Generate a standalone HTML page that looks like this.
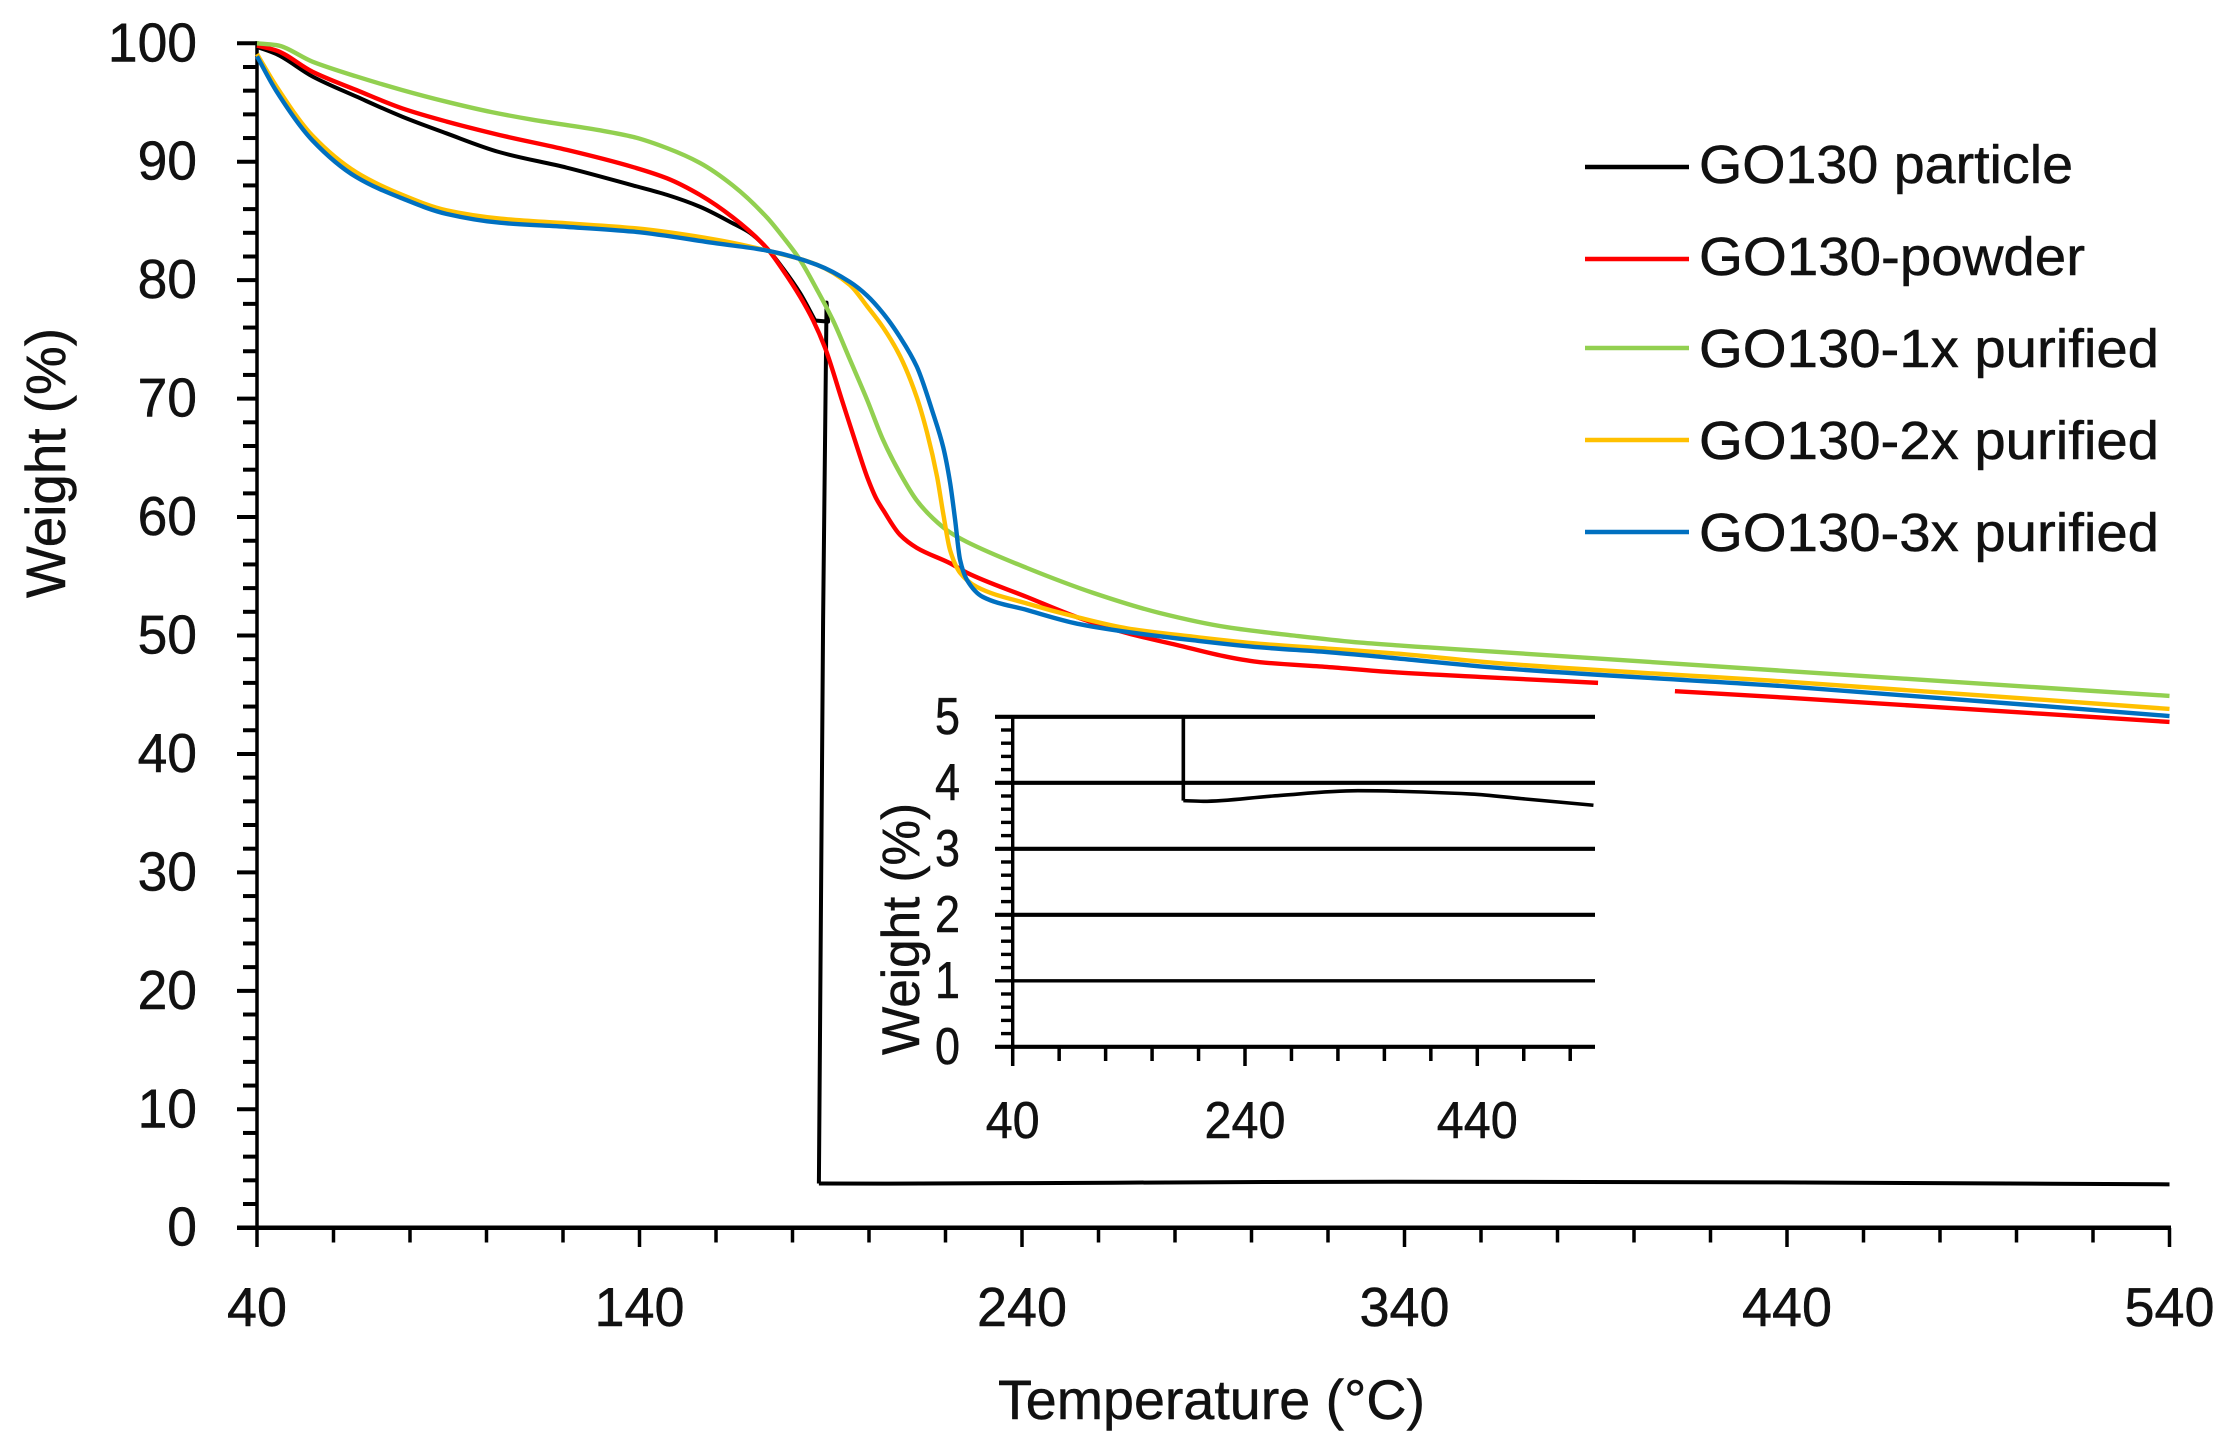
<!DOCTYPE html>
<html lang="en">
<head>
<meta charset="utf-8">
<title>GO130 TGA chart</title>
<style>
html,body{margin:0;padding:0;background:#fff;}
svg{display:block;}
text{font-family:"Liberation Sans",sans-serif;fill:#111;stroke:#111;stroke-width:0.5px;}
</style>
</head>
<body>
<svg id="chart" xmlns="http://www.w3.org/2000/svg" width="2234" height="1443" viewBox="0 0 2234 1443">
  <rect x="0" y="0" width="2234" height="1443" fill="#fff"/>
  <defs>
    <clipPath id="inset-clip"><rect x="1012" y="715" width="586" height="332"/></clipPath>
  </defs>
  <g id="main-grid"></g>
  <g id="main-lines"></g>
  <g id="inset-axes"></g>
  <g id="inset-lines" clip-path="url(#inset-clip)"></g>

  <text x="998" y="1419" font-size="56" textLength="427" lengthAdjust="spacingAndGlyphs">Temperature (°C)</text>
  <text transform="translate(65,598) rotate(-90)" x="0" y="0" font-size="56" textLength="270" lengthAdjust="spacingAndGlyphs">Weight (%)</text>
  <text transform="translate(919,1055) rotate(-90)" x="0" y="0" font-size="53" textLength="252" lengthAdjust="spacingAndGlyphs">Weight (%)</text>

  <g>
    <line x1="1585" x2="1689" y1="167" y2="167" stroke="#000" stroke-width="4.5"/>
    <text x="1699" y="183" font-size="54" textLength="374" lengthAdjust="spacingAndGlyphs">GO130 particle</text>
    <line x1="1585" x2="1689" y1="259" y2="259" stroke="#FF0000" stroke-width="4.5"/>
    <text x="1699" y="275" font-size="54" textLength="386" lengthAdjust="spacingAndGlyphs">GO130-powder</text>
    <line x1="1585" x2="1689" y1="348" y2="348" stroke="#92D050" stroke-width="4.5"/>
    <text x="1699" y="367" font-size="54" textLength="460" lengthAdjust="spacingAndGlyphs">GO130-1x purified</text>
    <line x1="1585" x2="1689" y1="440" y2="440" stroke="#FFC000" stroke-width="4.5"/>
    <text x="1699" y="459" font-size="54" textLength="460" lengthAdjust="spacingAndGlyphs">GO130-2x purified</text>
    <line x1="1585" x2="1689" y1="532" y2="532" stroke="#0070C0" stroke-width="4.5"/>
    <text x="1699" y="551" font-size="54" textLength="460" lengthAdjust="spacingAndGlyphs">GO130-3x purified</text>
  </g>
</svg>
<script>
// Main axis ticks
var xMajorTicks = [40, 140, 240, 340, 440, 540];
var yMajorTicks = [0, 10, 20, 30, 40, 50, 60, 70, 80, 90, 100];
var xMinorStep = 20;
var yMinorStep = 2;

// Inset axis ticks
var insetXMajorTicks = [40, 240, 440];
var insetYMajorTicks = [0, 1, 2, 3, 4, 5];
var insetXMinorStep = 40;
var insetYMinorStep = 0.2;

// GO130 particle: decline, collapse hook, residual tail
var blackT = [40,45,54.5,66,78,89.5,103.5,121,138.3,147.2,155.8,164.4,168.9,173.3,177.5,182,185.9];
var blackW = [99.7,99.1,97.2,95.5,93.8,92.4,90.8,89.5,88,87.2,86.2,84.8,84,82.7,81,78.9,76.6];
var blackDropT = [185.9,189.3,188.9,188,186.9];
var blackDropW = [76.6,76.5,78.1,51.3,3.73];
var blackTailT = [186.9,204,264,337,435,478,540];
var blackTailW = [3.73,3.72,3.8,3.88,3.83,3.76,3.66];

// GO130-powder (null marks the break hidden behind the inset)
var redT = [40,45,54.5,66,78,89.5,103.5,121,138.3,147.2,155.8,164.4,173.3,177.5,182,185.4,188.5,192.9,197.1,199.5,202,203.7,208.1,212.5,221.2,225.6,241.3,254.4,267.5,280.5,293.6,302.2,319.7,337,359.7,390.6,null,410.7,440,540];
var redW = [99.8,99.4,97.6,96.05,94.5,93.4,92.25,91,89.55,88.6,87.2,85.3,82.7,80.85,78.6,76.6,74.3,69.9,65.7,63.4,61.5,60.6,58.5,57.4,56.1,55.3,53.25,51.55,50.2,49.2,48.2,47.75,47.35,46.9,46.5,46,null,45.3,44.75,42.7];

// GO130-1x purified
var greenT = [40,45,54.5,66,78,89.5,101.2,112,129.7,138.3,147.2,155.8,164.4,173.3,177.5,182,186.4,190.6,195,199.5,203.7,208.1,212.5,216.7,221.2,225.6,241.3,258.6,276,293.6,310.9,328.4,345.9,365,440,540];
var greenW = [100,99.85,98.45,97.2,96.05,95.07,94.2,93.55,92.65,92.1,91.15,89.9,88,85.3,83.65,81.7,79.2,76.6,73.3,69.9,66.5,63.7,61.4,59.9,58.7,57.9,55.7,53.6,51.9,50.7,50,49.4,49,48.6,47,44.9];

// GO130-2x purified
var orangeT = [40,45,54.5,66,78,89.5,103.5,121,138.3,160.3,173.3,186.4,195,199.5,203.7,208.1,212.5,215.2,217.8,219.4,221.2,223.8,228.2,241.3,254.4,267.5,284.7,302.2,319.7,337,365,440,540];
var orangeW = [99.1,96.4,92.2,89.1,87.2,85.9,85.2,84.8,84.4,83.4,82.5,81.3,79.6,77.8,76,73.6,70.1,67.1,63.4,60.3,57.2,55.3,54.1,52.7,51.55,50.6,49.9,49.3,48.9,48.5,47.65,46.1,43.8];

// GO130-3x purified
var blueT = [40,45,54.5,66,78,89.5,103.5,121,138.3,160.3,173.3,186.4,195,199.5,203.7,208.1,212.5,216.7,219.4,221.2,222.5,223.8,225.6,229.8,241.3,254.4,267.5,284.7,302.2,319.7,337,365,440,540];
var blueW = [98.9,96,91.8,88.7,86.9,85.6,84.85,84.5,84.1,83.1,82.5,81.3,79.85,78.7,77.2,75.2,72.7,68.8,65.9,62.9,59.8,56.4,54.7,53.25,52.15,51,50.3,49.6,49,48.6,48.1,47.25,45.7,43.2];

var SVGNS = 'http://www.w3.org/2000/svg';
function xMain(t){ return 257 + (t - 40) * 3.825; }
function yMain(w){ return 1227.7 - w * 11.844; }
function xInset(t){ return 1012.7 + (t - 40) * 1.1615; }
function yInset(w){ return 1046.8 - w * 66; }

function makeLine(parent, x1, y1, x2, y2, width){
  var el = document.createElementNS(SVGNS, 'line');
  el.setAttribute('x1', x1);
  el.setAttribute('y1', y1);
  el.setAttribute('x2', x2);
  el.setAttribute('y2', y2);
  el.setAttribute('stroke', '#000');
  el.setAttribute('stroke-width', width);
  parent.appendChild(el);
  return el;
}
function makeLabel(parent, x, y, anchor, size, length, content){
  var el = document.createElementNS(SVGNS, 'text');
  el.setAttribute('x', x);
  el.setAttribute('y', y);
  el.setAttribute('text-anchor', anchor);
  el.setAttribute('font-size', size);
  el.setAttribute('textLength', length);
  el.setAttribute('lengthAdjust', 'spacingAndGlyphs');
  el.textContent = content;
  parent.appendChild(el);
  return el;
}
// Monotone cubic through the points (Fritsch-Butland tangents), split at nulls
function splinePath(xs, ys, sx, sy){
  var runs = [], run = [];
  for (var i = 0; i < xs.length; i++){
    if (xs[i] === null){ runs.push(run); run = []; }
    else { run.push([sx(xs[i]), sy(ys[i])]); }
  }
  runs.push(run);
  var d = '';
  runs.forEach(function(p){
    var n = p.length, h = [], s = [], m = [], k;
    for (k = 0; k < n - 1; k++){
      h[k] = p[k + 1][0] - p[k][0];
      s[k] = (p[k + 1][1] - p[k][1]) / h[k];
    }
    m[0] = s[0];
    m[n - 1] = s[n - 2];
    for (k = 1; k < n - 1; k++){
      if (s[k - 1] * s[k] <= 0) { m[k] = 0; }
      else { m[k] = 3 * (h[k - 1] + h[k]) / ((2 * h[k] + h[k - 1]) / s[k - 1] + (h[k] + 2 * h[k - 1]) / s[k]); }
    }
    d += 'M' + p[0][0].toFixed(2) + ' ' + p[0][1].toFixed(2);
    for (k = 0; k < n - 1; k++){
      d += 'C' + (p[k][0] + h[k] / 3).toFixed(2) + ' ' + (p[k][1] + m[k] * h[k] / 3).toFixed(2) + ' ' +
           (p[k + 1][0] - h[k] / 3).toFixed(2) + ' ' + (p[k + 1][1] - m[k + 1] * h[k] / 3).toFixed(2) + ' ' +
           p[k + 1][0].toFixed(2) + ' ' + p[k + 1][1].toFixed(2);
    }
  });
  return d;
}
function polyPath(xs, ys, sx, sy){
  var d = '';
  for (var i = 0; i < xs.length; i++){
    d += (i ? 'L' : 'M') + sx(xs[i]).toFixed(2) + ' ' + sy(ys[i]).toFixed(2);
  }
  return d;
}
function makePath(parent, d, color, width){
  var el = document.createElementNS(SVGNS, 'path');
  el.setAttribute('d', d);
  el.setAttribute('fill', 'none');
  el.setAttribute('stroke', color);
  el.setAttribute('stroke-width', width);
  el.setAttribute('stroke-linejoin', 'round');
  parent.appendChild(el);
  return el;
}

/* ---------- main axes ---------- */
var mainAxes = document.getElementById('main-grid');
var el, v, n;
for (n = 1; n < 50; n++){
  v = n * yMinorStep;
  if (yMajorTicks.indexOf(v) >= 0) { continue; }
  el = makeLine(mainAxes, 243, yMain(v), 257, yMain(v), 4);
  
  
}
yMajorTicks.forEach(function(v){
  var tick = makeLine(mainAxes, 237, yMain(v), 257, yMain(v), 4);
  
  
  var label = makeLabel(mainAxes, 197, yMain(v) + 18, 'end', 55, String(v).length * 29.7, String(v));
  
  
});
for (v = 40 + xMinorStep; v < 540; v += xMinorStep){
  if (xMajorTicks.indexOf(v) >= 0) { continue; }
  el = makeLine(mainAxes, xMain(v), 1228, xMain(v), 1242.5, 3.5);
  
  
}
xMajorTicks.forEach(function(v){
  var tick = makeLine(mainAxes, xMain(v), 1228, xMain(v), 1247, 3.5);
  
  
  var label = makeLabel(mainAxes, xMain(v), 1326, 'middle', 55, String(v).length * 30, String(v));
  
  
});
el = makeLine(mainAxes, 237, yMain(0), xMain(540) + 1.5, yMain(0), 4.5);


el = makeLine(mainAxes, xMain(40), yMain(100) - 2, xMain(40), yMain(0), 3.5);



/* ---------- main series ---------- */
var mainLines = document.getElementById('main-lines');
el = makePath(mainLines, splinePath(blackT, blackW, xMain, yMain), '#000', 4);


el = makePath(mainLines, polyPath(blackDropT, blackDropW, xMain, yMain), '#000', 4);


el = makePath(mainLines, splinePath(blackTailT, blackTailW, xMain, yMain), '#000', 4);


el = makePath(mainLines, splinePath(redT, redW, xMain, yMain), '#FF0000', 4.4);


el = makePath(mainLines, splinePath(greenT, greenW, xMain, yMain), '#92D050', 4.4);


el = makePath(mainLines, splinePath(orangeT, orangeW, xMain, yMain), '#FFC000', 4.4);


el = makePath(mainLines, splinePath(blueT, blueW, xMain, yMain), '#0070C0', 4.4);



/* ---------- inset axes ---------- */
var insetAxes = document.getElementById('inset-axes');
for (n = 1; n < 25; n++){
  v = n * insetYMinorStep;
  if (n % 5 === 0) { continue; }
  el = makeLine(insetAxes, 1001, yInset(v), 1012.7, yInset(v), 3.4);
  
  
}
insetYMajorTicks.forEach(function(v){
  var grid = makeLine(insetAxes, 995, yInset(v), 1595, yInset(v), v === 1 ? 3.4 : 4.2);
  
  
  var label = makeLabel(insetAxes, 960, yInset(v) + 17, 'end', 52, 25, String(v));
  
  
});
for (v = 40; v < 540; v += insetXMinorStep){
  if (insetXMajorTicks.indexOf(v) >= 0) { continue; }
  el = makeLine(insetAxes, xInset(v), 1046, xInset(v), 1061, 3.5);
  
  
}
insetXMajorTicks.forEach(function(v){
  var tick = makeLine(insetAxes, xInset(v), 1046, xInset(v), 1066, 3.5);
  
  
  var label = makeLabel(insetAxes, xInset(v), 1138, 'middle', 52, String(v).length * 27, String(v));
  
  
});
el = makeLine(insetAxes, 1012.7, yInset(5), 1012.7, yInset(0), 3.4);



/* ---------- inset series ---------- */
var insetLines = document.getElementById('inset-lines');
el = makePath(insetLines, polyPath(blackDropT, blackDropW, xInset, yInset), '#000', 3.6);


el = makePath(insetLines, splinePath(blackTailT, blackTailW, xInset, yInset), '#000', 3.6);


</script>
</body>
</html>
